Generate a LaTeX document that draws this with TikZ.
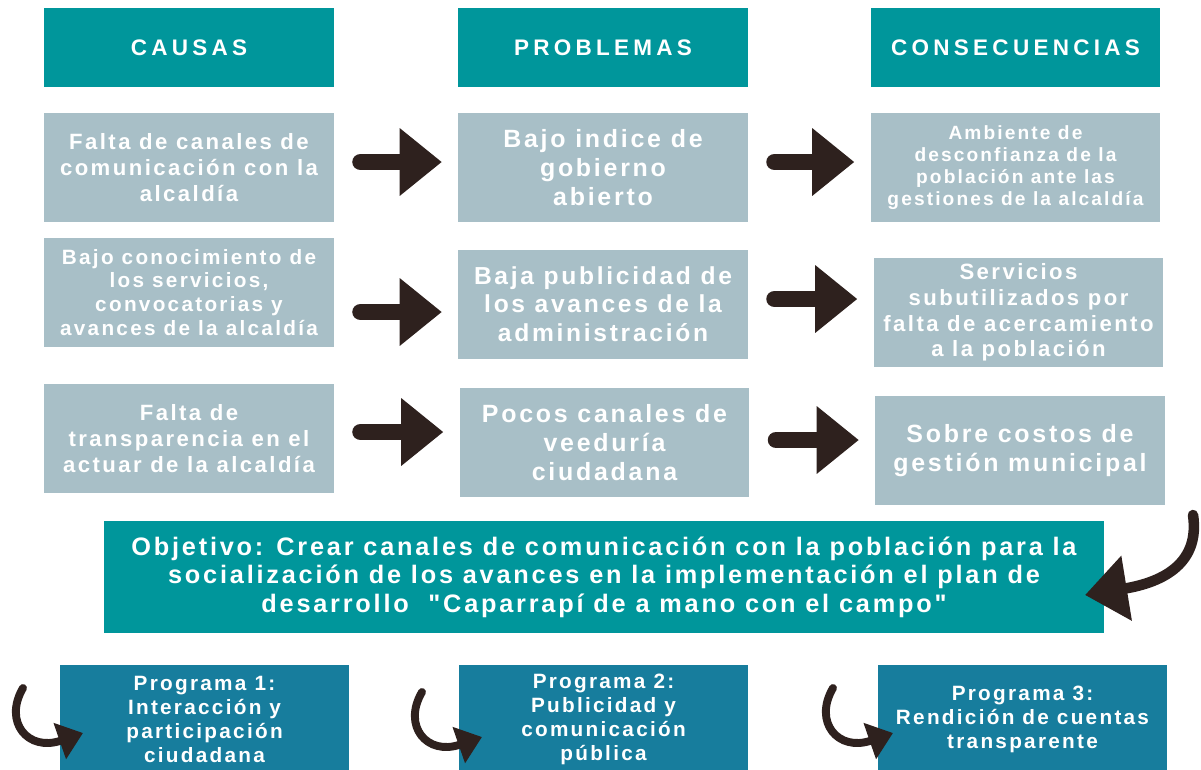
\documentclass[tikz,border=0pt]{standalone}
\usepackage{fontspec}
\setmainfont{Liberation Sans}
\newfontfamily\cellfont[LetterSpace=11]{Liberation Sans}
\newfontfamily\headfont[LetterSpace=19]{Liberation Sans}
\usetikzlibrary{arrows.meta}
\definecolor{tealhead}{HTML}{00969B}
\definecolor{greycell}{HTML}{A8BFC7}
\definecolor{progblue}{HTML}{177D9D}
\definecolor{arrowbrown}{HTML}{2E211E}
\newcommand\cellsize[2]{\cellfont\bfseries\fontsize{#1}{#2}\selectfont}
\begin{document}
\begin{tikzpicture}[x=0.02cm,y=-0.02cm,
  box/.style={rectangle,inner sep=0pt,align=center,text=white,minimum width=5.8cm,minimum height=2.18cm},
  header/.style={box,fill=tealhead,minimum height=1.58cm,font=\headfont\bfseries\fontsize{12.8}{15}\selectfont},
  cell/.style={box,fill=greycell,font=\cellsize{12.6}{14.7}},
  goal/.style={box,fill=tealhead,minimum width=20cm,minimum height=2.24cm,font=\cellsize{14.4}{16.2}},
  prog/.style={box,fill=progblue,font=\cellsize{11.8}{13.6}},
  fatarrow/.style={arrowbrown,line width=9.6pt,line cap=round,-{Triangle[length=24pt,width=37pt]},shorten <=15pt,shorten >=9pt},
  bigcurve/.style={arrowbrown,line width=6pt,line cap=round,-{Triangle[length=24pt,width=36pt]}},
  smallcurve/.style={arrowbrown,line width=4.5pt,line cap=round,-{Triangle[length=14pt,width=21pt]}}]
  \useasboundingbox (0,0) rectangle (1201,769);
  % headers
  \node[header] (hc) at (189,47.5) {CAUSAS};
  \node[header] (hp) at (603,47.5) {PROBLEMAS};
  \node[header] (hq) at (1015.5,47.5) {CONSECUENCIAS};
  % first row
  \node[cell] (c1) at (189,167.5) {Falta de canales de\\comunicación con la\\alcaldía};
  \node[cell,font=\cellsize{14.2}{16.4}] (p1) at (603,167.5) {Bajo indice de\\gobierno\\abierto};
  \node[cell,font=\cellsize{10.9}{12.6}] (q1) at (1015.5,167.5) {Ambiente de\\desconfianza de la\\población ante las\\gestiones de la alcaldía};
  % second row
  \node[cell,font=\cellsize{11.8}{13.6}] (c2) at (189,292.5) {Bajo conocimiento de\\los servicios,\\convocatorias y\\avances de la alcaldía};
  \node[cell,font=\cellsize{14}{16.2}] (p2) at (603,304) {Baja publicidad de\\los avances de la\\administración};
  \node[cell] (q2) at (1018.5,312.5) {Servicios\\subutilizados por\\falta de acercamiento\\a la población};
  % third row
  \node[cell] (c3) at (189,438.5) {Falta de\\transparencia en el\\actuar de la alcaldía};
  \node[cell,font=\cellsize{14.2}{16.4}] (p3) at (604.5,442.5) {Pocos canales de\\veeduría\\ciudadana};
  \node[cell,font=\cellsize{14.2}{16.4}] (q3) at (1020,450.5) {Sobre costos de\\gestión municipal};
  % objective and programmes
  \node[goal] (obj) at (604,577) {Objetivo: Crear canales de comunicación con la población para la\\socialización de los avances en la implementación el plan de\\desarrollo\ \ "Caparrapí de a mano con el campo"};
  \node[prog] (g1) at (204.5,719.5) {Programa 1:\\Interacción y\\participación\\ciudadana};
  \node[prog] (g2) at (603.5,719.5) {Programa 2:\\Publicidad y\\comunicación\\pública};
  \node[prog] (g3) at (1022.5,719.5) {Programa 3:\\Rendición de cuentas\\transparente};
  % straight arrows
  \draw[fatarrow] (c1.east |- 0,162) -- (p1.west |- 0,162);
  \draw[fatarrow] (p1.east |- 0,162) -- (q1.west |- 0,162);
  \draw[fatarrow] (c2.east |- 0,312) -- (p2.west |- 0,312);
  \draw[fatarrow] (p2.east |- 0,299) -- (q2.west |- 0,299);
  \draw[fatarrow] (c3.east |- 0,432) -- (p3.west |- 0,432);
  \draw[fatarrow] (p3.east |- 0,440) -- (q3.west |- 0,440);
  % curved arrows
  \coordinate (objtail) at (1193,515);
  \coordinate (objtip) at (1085,595);
  \draw[bigcurve] (objtail) .. controls (1200,562) and (1165,582) .. (objtip);
  \foreach \prog/\dx/\dy in {g1/0/0,g2/399/4,g3/810/0}{
    \coordinate (\prog tail) at (23+\dx,688+\dy);
    \coordinate (\prog tip) at (83+\dx,733+\dy);
    \draw[smallcurve] (\prog tail) .. controls (3+\dx,722+\dy) and (28+\dx,752+\dy) .. (\prog tip);
  }
\end{tikzpicture}
\end{document}
